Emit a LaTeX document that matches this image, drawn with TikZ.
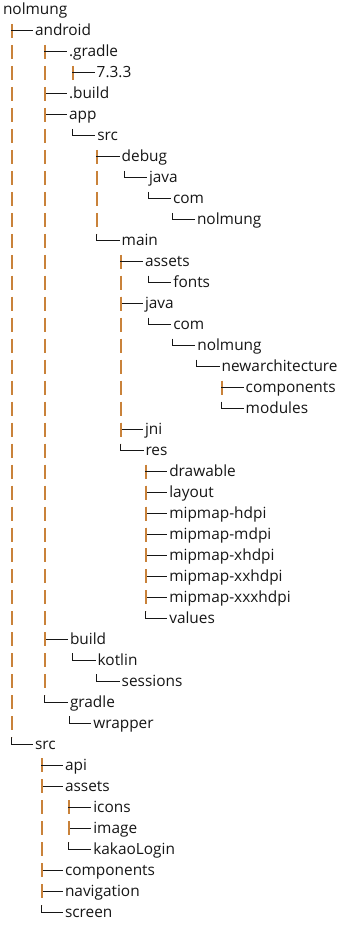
\documentclass[tikz,border=0pt]{standalone}
\usepackage{fontspec}
\setmainfont{Open Sans}
\usetikzlibrary{calc}

\definecolor{ink}{HTML}{161616}
\definecolor{barorange}{HTML}{C9823A}

\tikzset{
  entry/.style={anchor=base west, inner sep=0pt, outer sep=0pt, text=ink,
                font=\fontsize{15.4}{18}\selectfont},
  hline/.style={draw=ink, line width=1pt},
  elbow/.style={draw=ink, line width=1pt},
  bar/.style={draw=barorange, line width=1.7pt},
  trunkbar/.style={bar, dash pattern=on 14pt off 6.98pt, dash phase=14pt},
}

% one entry of the listing: #1 row, #2 x of the branch glyph, #3 x of the name, #4 name
\newcommand\teerow[4]{%
  \coordinate (k#1) at (#2,{10+20.98*#1});
  \node[entry] (r#1) at (#3,{15+20.98*#1}) {#4};
  \draw[bar] ([xshift=0.8pt,yshift=7pt]k#1) -- ([xshift=0.8pt,yshift=-7pt]k#1);
  \draw[hline] (k#1) -- ($(k#1 -| r#1.west)+(-2,0)$);
}
\newcommand\elbowrow[4]{%
  \coordinate (k#1) at (#2,{10+20.98*#1});
  \node[entry] (r#1) at (#3,{15+20.98*#1}) {#4};
  \draw[elbow] ([xshift=0.5pt,yshift=7pt]k#1) -- ([xshift=0.5pt]k#1) -- ($(k#1 -| r#1.west)+(-2,0)$);
}
% dashed continuation between the first and the last child of a folder
\newcommand\trunk[2]{%
  \draw[trunkbar] ([xshift=0.8pt,yshift=-7pt]k#1) -- ([xshift=0.8pt,yshift=7pt]k#2);
}

\begin{document}
\begin{tikzpicture}[x=1pt, y=-1pt]
  \useasboundingbox (0,0) rectangle (361,933);

  \node[entry] (r0) at (3,15) {nolmung};

  \teerow{1}{11}{35}{android}
  \teerow{2}{44}{69}{.gradle}
  \teerow{3}{72}{96.7}{7.3.3}
  \teerow{4}{44}{69}{.build}
  \teerow{5}{44}{69}{app}
  \elbowrow{6}{72}{97.3}{src}
  \teerow{7}{96}{121.7}{debug}
  \elbowrow{8}{124}{149}{java}
  \elbowrow{9}{148}{173}{com}
  \elbowrow{10}{172}{197}{nolmung}
  \elbowrow{11}{96}{121.7}{main}
  \teerow{12}{120}{145}{assets}
  \elbowrow{13}{148}{173.3}{fonts}
  \teerow{14}{120}{145}{java}
  \elbowrow{15}{148}{173.3}{com}
  \elbowrow{16}{172}{197.3}{nolmung}
  \elbowrow{17}{196}{221.7}{newarchitecture}
  \teerow{18}{221}{245.7}{components}
  \elbowrow{19}{221}{245.7}{modules}
  \teerow{20}{120}{145}{jni}
  \elbowrow{21}{120}{145.5}{res}
  \teerow{22}{145}{169.3}{drawable}
  \teerow{23}{145}{169.3}{layout}
  \teerow{24}{145}{169.3}{mipmap-hdpi}
  \teerow{25}{145}{169.3}{mipmap-mdpi}
  \teerow{26}{145}{169.3}{mipmap-xhdpi}
  \teerow{27}{145}{169.3}{mipmap-xxhdpi}
  \teerow{28}{145}{169.3}{mipmap-xxxhdpi}
  \elbowrow{29}{145}{169.3}{values}
  \teerow{30}{44}{70}{build}
  \elbowrow{31}{72}{97.7}{kotlin}
  \elbowrow{32}{96}{121.7}{sessions}
  \elbowrow{33}{44}{70}{gradle}
  \elbowrow{34}{69}{93.3}{wrapper}
  \elbowrow{35}{11}{35}{src}
  \teerow{36}{41}{65}{api}
  \teerow{37}{41}{65}{assets}
  \teerow{38}{68}{93.3}{icons}
  \teerow{39}{68}{93.3}{image}
  \elbowrow{40}{68}{93.3}{kakaoLogin}
  \teerow{41}{41}{65}{components}
  \teerow{42}{41}{65}{navigation}
  \elbowrow{43}{41}{65}{screen}

  \trunk{1}{35}
  \trunk{2}{33}
  \trunk{7}{11}
  \trunk{12}{21}
  \trunk{22}{29}
  \trunk{36}{43}
  \trunk{38}{40}
\end{tikzpicture}
\end{document}
